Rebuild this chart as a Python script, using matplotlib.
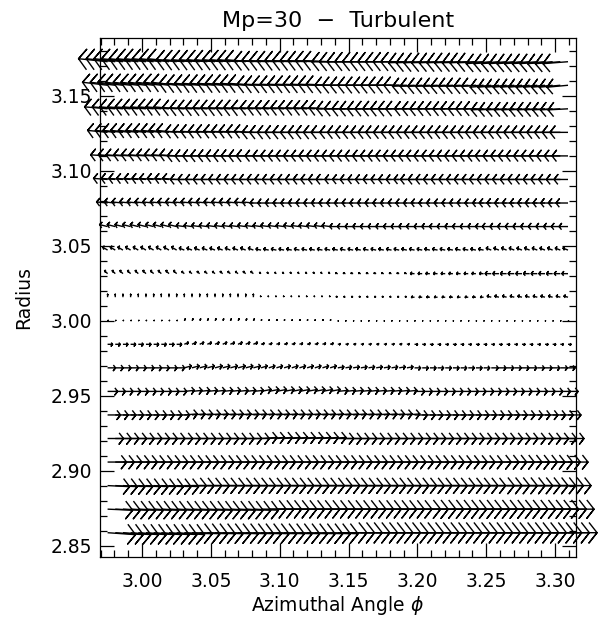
import numpy as np
import matplotlib.pyplot as plt
from matplotlib.collections import LineCollection
from matplotlib.ticker import MultipleLocator, FormatStrFormatter

# radial rows of the velocity grid (bottom to top)
radius = [2.8587, 2.8744, 2.8901, 2.9058, 2.9215, 2.9372, 2.9529, 2.9686,
          2.9843, 3.0000, 3.0157, 3.0314, 3.0471, 3.0628, 3.0785, 3.0942,
          3.1099, 3.1256, 3.1413, 3.1570, 3.1727]

# azimuthal columns
phi_start, phi_end, n_phi = 2.975, 3.3094, 61

# velocity per row, averaged over 6 azimuthal blocks (units of 1e-3)
u_phi = [
    [20.3, 20.3, 20.3, 21.1, 21.1, 21.1],
    [18.2, 18.2, 18.2, 18.2, 18.9, 18.9],
    [16.0, 16.0, 16.0, 16.0, 16.0, 16.7],
    [13.8, 13.8, 13.8, 13.8, 13.8, 14.5],
    [11.6, 11.6, 11.6, 11.6, 11.6, 11.6],
    [9.4, 9.4, 9.4, 9.4, 9.4, 9.4],
    [7.3, 7.3, 7.3, 7.3, 7.3, 7.3],
    [5.8, 5.1, 4.4, 4.4, 4.4, 5.1],
    [3.6, 2.9, 2.2, 1.8, 2.2, 2.2],
    [0.4, 0.7, 0.4, 0.4, 0.4, 0.4],
    [0.0, 0.0, -0.4, -1.1, -2.2, -2.9],
    [-2.2, -1.8, -1.1, -1.5, -2.9, -4.4],
    [-3.6, -3.6, -3.6, -3.6, -3.6, -3.6],
    [-5.8, -5.8, -5.8, -5.8, -5.8, -6.5],
    [-8.0, -8.0, -8.0, -8.0, -8.0, -8.7],
    [-10.2, -10.2, -10.2, -9.4, -10.2, -10.2],
    [-12.3, -12.3, -11.6, -11.6, -11.6, -11.6],
    [-14.5, -13.8, -13.8, -13.1, -13.1, -13.1],
    [-16.7, -16.0, -15.3, -15.3, -14.5, -14.5],
    [-18.2, -18.2, -17.4, -16.7, -16.0, -15.3],
    [-21.1, -20.3, -19.6, -18.9, -18.9, -18.2],
]
v_rad = [
    [-1.3, -0.7, -0.7, 0.0, 0.0, 0.0],
    [-0.7, -0.7, 0.0, 0.0, 0.0, 0.0],
    [-0.7, 0.0, 0.0, 0.0, 0.0, 0.0],
    [0.0, 0.0, 0.0, 0.0, 0.0, 0.0],
    [0.0, 0.0, 0.7, 0.0, 0.0, 0.0],
    [0.0, 0.7, 0.7, 0.7, 0.0, 0.0],
    [0.0, 0.7, 1.3, 0.7, 0.0, 0.0],
    [0.0, 1.3, 1.3, 0.7, 0.0, 0.0],
    [0.0, 1.3, 0.7, 0.3, 0.0, 0.0],
    [0.3, 1.3, 0.7, 0.0, 0.0, 0.0],
    [2.0, 2.0, 0.7, 0.3, 0.0, 0.7],
    [2.0, 1.3, 0.7, 0.3, 0.0, 0.0],
    [2.0, 1.3, 0.7, 0.7, 0.7, 1.3],
    [1.3, 0.7, 0.7, 0.0, 0.0, 0.0],
    [0.7, 0.7, 0.0, 0.0, 0.0, 0.0],
    [0.7, 0.0, 0.0, 0.0, 0.0, 0.0],
    [0.7, 0.0, 0.0, 0.0, 0.0, 0.0],
    [1.3, 0.7, 0.0, 0.0, 0.0, 0.0],
    [1.3, 0.7, 0.7, 0.0, 0.0, -0.7],
    [2.0, 1.3, 0.7, 0.0, -0.7, -1.3],
    [2.0, 1.3, 0.7, 0.0, -0.7, -1.3],
]


def velovect(ax, x, y, u, v, dx, dy, r=0.3, angle=22.5, **kw):
    # IDL-style arrows: head sized in grid-step units along each axis
    st = r * np.sin(np.radians(angle))
    ct = r * np.cos(np.radians(angle))
    x1 = x + u
    y1 = y + v
    un = u / dx
    vn = v / dy
    bx1 = x1 - (ct * un - st * vn) * dx
    by1 = y1 - (ct * vn + st * un) * dy
    bx2 = x1 - (ct * un + st * vn) * dx
    by2 = y1 - (ct * vn - st * un) * dy
    xs = np.stack([x, x1, bx1, x1, bx2], axis=-1).reshape(-1, 5)
    ys = np.stack([y, y1, by1, y1, by2], axis=-1).reshape(-1, 5)
    segs = np.stack([xs, ys], axis=-1)
    lc = LineCollection(segs, **kw)
    ax.add_collection(lc)
    return lc


phi = np.linspace(phi_start, phi_end, n_phi)
dphi = phi[1] - phi[0]
dr = radius[1] - radius[0]

# spread the block values over the columns
block = np.minimum(np.arange(n_phi) // 10, 5)
U = np.array(u_phi)[:, block] * 1e-3
V = np.array(v_rad)[:, block] * 1e-3
X, Y = np.meshgrid(phi, radius)

plt.rcParams['font.family'] = ['DejaVu Sans']

fig = plt.figure(figsize=(6.08, 6.20), dpi=100)
ax = fig.add_axes([0.1645, 0.1021, 0.7824, 0.8361])

velovect(ax, X, Y, U, V, dphi, dr, colors='black', linewidths=1.0,
         clip_on=False)

ax.set_xlim(2.9695, 3.3150)
ax.set_ylim(2.8427, 3.1883)

ax.xaxis.set_major_locator(MultipleLocator(0.05))
ax.xaxis.set_minor_locator(MultipleLocator(0.01))
ax.yaxis.set_major_locator(MultipleLocator(0.05))
ax.yaxis.set_minor_locator(MultipleLocator(0.01))
ax.xaxis.set_major_formatter(FormatStrFormatter('%.2f'))
ax.yaxis.set_major_formatter(FormatStrFormatter('%.2f'))

ax.tick_params(which='both', direction='in', top=True, right=True, width=0.9)
ax.tick_params(which='major', length=10, labelsize=13.5)
ax.tick_params(axis='x', which='major', pad=11)
ax.tick_params(axis='y', which='major', pad=6)
ax.tick_params(which='minor', length=5)
for s in ax.spines.values():
    s.set_linewidth(0.9)

ax.set_title('Mp=30  \u2212  Turbulent', fontsize=16, pad=8)
ax.set_xlabel(r'Azimuthal Angle $\phi$', fontsize=13.5, labelpad=2)
ax.set_ylabel('Radius', fontsize=13.5, labelpad=12)

fig.savefig('out.png', dpi=100)
